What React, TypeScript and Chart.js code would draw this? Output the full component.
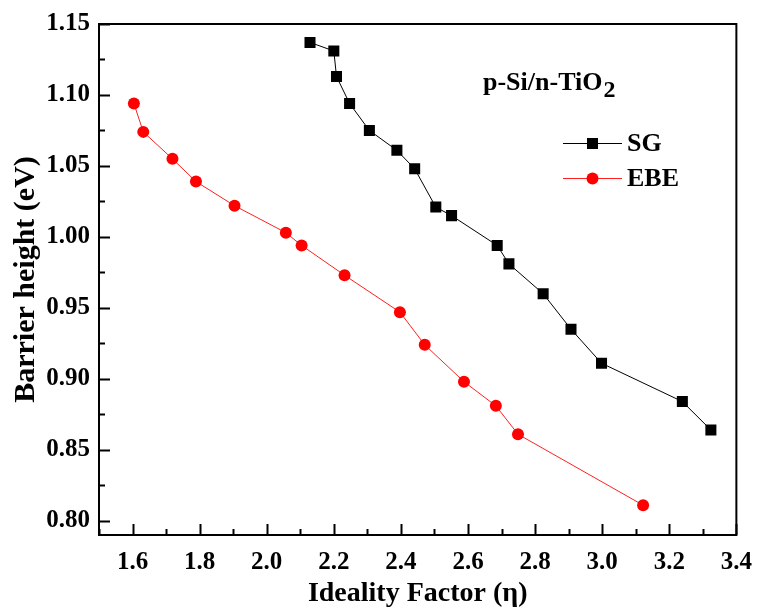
import React, { useEffect, useRef } from "react";
import { Chart, registerables } from "chart.js";

Chart.register(...registerables);

const sgEta = [2.129, 2.200, 2.208, 2.247, 2.306, 2.388, 2.441, 2.504, 2.551, 2.687, 2.722, 2.824, 2.907, 2.998, 3.239, 3.324];
const sgPhi = [1.137, 1.131, 1.113, 1.094, 1.075, 1.061, 1.048, 1.021, 1.015, 0.994, 0.981, 0.960, 0.935, 0.911, 0.884, 0.864];
const ebeEta = [1.604, 1.632, 1.719, 1.789, 1.904, 2.057, 2.104, 2.232, 2.397, 2.471, 2.588, 2.683, 2.749, 3.122];
const ebePhi = [1.094, 1.074, 1.055, 1.039, 1.022, 1.003, 0.994, 0.973, 0.947, 0.924, 0.898, 0.881, 0.861, 0.811];

const xMajor = [1.6, 1.8, 2.0, 2.2, 2.4, 2.6, 2.8, 3.0, 3.2, 3.4];
const xMinor = [1.5, 1.7, 1.9, 2.1, 2.3, 2.5, 2.7, 2.9, 3.1, 3.3];
const yMajor = [0.80, 0.85, 0.90, 0.95, 1.00, 1.05, 1.10, 1.15];
const yMinor = [0.825, 0.875, 0.925, 0.975, 1.025, 1.075, 1.125];

const seriesNames = ["SG", "EBE"];
const annotation = "p-Si/n-TiO";
const annotationSub = "2";

const FONT = "'Liberation Serif', 'Times New Roman', serif";

const frame = {
  id: "frame",
  afterDraw(chart: any) {
    const { ctx, chartArea: a, scales } = chart;
    const xs = scales.x, ys = scales.y;
    ctx.save();
    ctx.strokeStyle = "#000";
    ctx.lineWidth = 2;
    ctx.strokeRect(a.left, a.top, a.right - a.left, a.bottom - a.top);
    ctx.beginPath();
    const tk = (v: number, len: number) => {
      const px = Math.round(xs.getPixelForValue(v)) + 0.5;
      ctx.moveTo(px, a.bottom);
      ctx.lineTo(px, a.bottom - len);
    };
    xMajor.forEach((v) => tk(v, 11));
    xMinor.forEach((v) => tk(v, 6));
    const tky = (v: number, len: number) => {
      const py = Math.round(ys.getPixelForValue(v)) + 0.5;
      ctx.moveTo(a.left, py);
      ctx.lineTo(a.left + len, py);
    };
    yMajor.forEach((v) => tky(v, 11));
    yMinor.forEach((v) => tky(v, 6));
    ctx.stroke();

    // annotation
    ctx.fillStyle = "#000";
    ctx.font = `bold 26px ${FONT}`;
    ctx.textBaseline = "alphabetic";
    ctx.textAlign = "left";
    const ax = 483, ay = 90;
    ctx.fillText(annotation, ax, ay);
    const w = ctx.measureText(annotation).width;
    ctx.font = `bold 24px ${FONT}`;
    ctx.fillText(annotationSub, ax + w + 1, ay + 7);

    // legend
    const ds = chart.data.datasets;
    const rows = [143, 178];
    ds.forEach((d: any, i: number) => {
      const y = rows[i];
      ctx.strokeStyle = d.borderColor;
      ctx.lineWidth = 1;
      ctx.beginPath();
      ctx.moveTo(563, y + 0.5);
      ctx.lineTo(622, y + 0.5);
      ctx.stroke();
      ctx.fillStyle = d.pointBackgroundColor;
      if (d.pointStyle === "rect") {
        ctx.fillRect(587, y - 5, 11, 11);
      } else {
        ctx.beginPath();
        ctx.arc(592.5, y + 0.5, 6, 0, Math.PI * 2);
        ctx.fill();
      }
      ctx.fillStyle = "#000";
      ctx.font = `bold 26px ${FONT}`;
      ctx.textBaseline = "middle";
      ctx.fillText(seriesNames[i], 627, y + 1);
    });
    ctx.restore();
  },
};

export default function App() {
  const ref = useRef<HTMLCanvasElement>(null);
  useEffect(() => {
    document.body.style.margin = "0";
    const chart = new Chart(ref.current!, {
      type: "line",
      data: {
        datasets: [
          {
            label: seriesNames[0],
            data: sgEta.map((x, i) => ({ x, y: sgPhi[i] })),
            borderColor: "#000000",
            backgroundColor: "#000000",
            pointBackgroundColor: "#000000",
            pointBorderColor: "#000000",
            pointStyle: "rect",
            pointRadius: 7.8,
            pointBorderWidth: 0,
            borderWidth: 1,
          },
          {
            label: seriesNames[1],
            data: ebeEta.map((x, i) => ({ x, y: ebePhi[i] })),
            borderColor: "#ff2020",
            backgroundColor: "#ff0000",
            pointBackgroundColor: "#ff0000",
            pointBorderColor: "#ff0000",
            pointStyle: "circle",
            pointRadius: 6,
            pointBorderWidth: 0,
            borderWidth: 1,
          },
        ],
      },
      options: {
        animation: false,
        responsive: false,
        layout: { padding: { top: 16, right: 17, left: 0, bottom: 0 } },
        plugins: { legend: { display: false }, tooltip: { enabled: false } },
        scales: {
          x: {
            type: "linear",
            min: 1.5,
            max: 3.4,
            grid: { display: false, drawTicks: false },
            border: { display: false },
            afterFit: (s: any) => { s.height = 78; },
            afterBuildTicks: (s: any) => { s.ticks = xMajor.map((v) => ({ value: v })); },
            ticks: {
              padding: 13,
              color: "#000",
              font: { family: FONT, size: 25, weight: "bold" },
              callback: (v: any) => Number(v).toFixed(1),
            },
            title: {
              display: true,
              text: "Ideality Factor (η)",
              color: "#000",
              font: { family: FONT, size: 28, weight: "bold", lineHeight: 1 },
              padding: { top: 0, bottom: 5 },
            },
          },
          y: {
            type: "linear",
            min: 0.79,
            max: 1.15,
            grid: { display: false, drawTicks: false },
            border: { display: false },
            afterFit: (s: any) => { s.width = 99; },
            afterBuildTicks: (s: any) => { s.ticks = yMajor.map((v) => ({ value: v })); },
            ticks: {
              padding: 9,
              color: "#000",
              font: { family: FONT, size: 25, weight: "bold" },
              callback: (v: any) => Number(v).toFixed(2),
            },
            title: {
              display: true,
              text: "Barrier height (eV)",
              color: "#000",
              font: { family: FONT, size: 30, weight: "bold", lineHeight: 1 },
              padding: { top: 11, bottom: 0 },
            },
          },
        },
      },
      plugins: [frame],
    } as any);
    return () => chart.destroy();
  }, []);
  return (
    <div style={{ position: "absolute", left: 0, top: 0, width: 765, height: 613, background: "#fff" }}>
      <canvas ref={ref} width={765} height={613} style={{ display: "block" }} />
    </div>
  );
}
